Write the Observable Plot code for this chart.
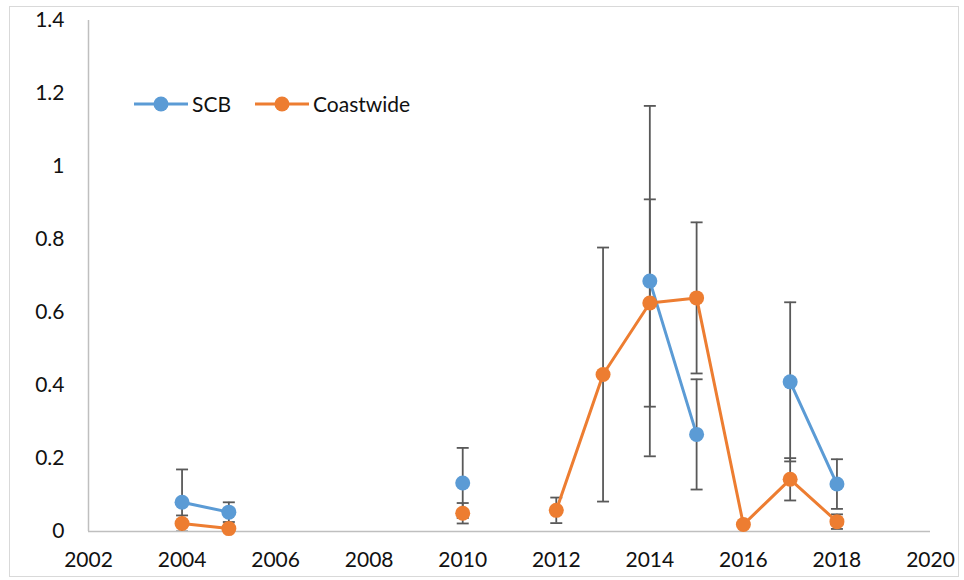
<!DOCTYPE html>
<html>
<head>
<meta charset="utf-8">
<script src="https://cdn.jsdelivr.net/npm/d3@7"></script>
<script src="https://cdn.jsdelivr.net/npm/@observablehq/plot@0.6"></script>
<style>
  html, body { margin: 0; padding: 0; background: #fff; }
  #wrap { position: relative; width: 964px; height: 580px; font-family: Lato, "Open Sans", sans-serif; }
  #border { position: absolute; left: 9px; top: 6px; width: 950px; height: 571px; border: 1px solid #d9d9d9; box-sizing: border-box; pointer-events: none; }
  #legend { position: absolute; left: 134px; top: 91px; display: flex; align-items: center; font-size: 21px; color: #111; }
  #legend .item { display: flex; align-items: center; margin-right: 24px; }
  #legend svg { margin-right: 4px; }
</style>
</head>
<body>
<div id="wrap"><div id="border"></div><div id="chart"></div><div id="legend"></div></div>
<script>
const years =        [2004, 2005, 2006, 2007, 2008, 2009, 2010, 2011, 2012, 2013, 2014, 2015, 2016, 2017, 2018];
const scb =          [0.080, 0.053, null, null, null, null, 0.133, null, null, null, 0.686, 0.266, null, 0.410, 0.130];
const scbErr =       [0.090, 0.027, null, null, null, null, 0.096, null, null, null, 0.480, 0.151, null, 0.218, 0.068];
const coastwide =    [0.022, 0.008, null, null, null, null, 0.050, null, 0.058, 0.430, 0.626, 0.640, 0.019, 0.143, 0.027];
const coastwideErr = [0.022, 0.006, null, null, null, null, 0.028, null, 0.035, 0.348, 0.284, 0.207, 0.005, 0.058, 0.020];
const seriesNames = ["SCB", "Coastwide"];
const seriesColors = ["#5B9BD5", "#ED7D31"];
const xTicks = [2002, 2004, 2006, 2008, 2010, 2012, 2014, 2016, 2018, 2020];
const yTicks = [0, 0.2, 0.4, 0.6, 0.8, 1, 1.2, 1.4];

function rows(vals, errs, name) {
  return years.map((yr, i) => ({
    year: yr, value: vals[i], series: name,
    lo: vals[i] == null ? null : vals[i] - errs[i],
    hi: vals[i] == null ? null : vals[i] + errs[i]
  }));
}
const scbRows = rows(scb, scbErr, "SCB");
const cwRows = rows(coastwide, coastwideErr, "Coastwide");
const errRows = [...scbRows, ...cwRows].filter(d => d.value != null);

const capSymbol = {
  draw(ctx, size) {
    const r = Math.sqrt(size / Math.PI);
    ctx.moveTo(-r, 0);
    ctx.lineTo(r, 0);
  }
};

const chart = Plot.plot({
  width: 964,
  height: 580,
  marginLeft: 88,
  marginRight: 34,
  marginTop: 20,
  marginBottom: 49,
  style: { fontFamily: "Lato, 'Open Sans', sans-serif", fontSize: "21px", color: "#111", background: "transparent" },
  x: { domain: [2002, 2020], ticks: xTicks, tickFormat: d => String(d), tickSize: 0, tickPadding: 22, label: null },
  y: { domain: [0, 1.4], ticks: yTicks, tickFormat: d => String(d), tickSize: 0, tickPadding: 24, label: null },
  marks: [
    Plot.axisX({ ticks: xTicks, tickFormat: d => String(d), tickSize: 0, tickPadding: 21, label: null, fontSize: 21, fill: "#111" }),
    Plot.axisY({ ticks: yTicks, tickFormat: d => String(d), tickSize: 0, tickPadding: 24, label: null, fontSize: 21, fill: "#111" }),
    Plot.ruleY([0], { stroke: "#bfbfbf", strokeWidth: 1.5 }),
    Plot.ruleX([2002], { stroke: "#bfbfbf", strokeWidth: 1.5 }),
    Plot.ruleX(errRows, { x: "year", y1: "lo", y2: "hi", stroke: "#595959", strokeWidth: 1.8, clip: true }),
    Plot.dot(errRows, { x: "year", y: "lo", symbol: capSymbol, r: 6, stroke: "#595959", strokeWidth: 1.8, clip: true }),
    Plot.dot(errRows, { x: "year", y: "hi", symbol: capSymbol, r: 6, stroke: "#595959", strokeWidth: 1.8, clip: true }),
    Plot.line(scbRows, { x: "year", y: "value", stroke: seriesColors[0], strokeWidth: 3 }),
    Plot.dot(scbRows.filter(d => d.value != null), { x: "year", y: "value", r: 7.5, fill: seriesColors[0] }),
    Plot.line(cwRows, { x: "year", y: "value", stroke: seriesColors[1], strokeWidth: 3 }),
    Plot.dot(cwRows.filter(d => d.value != null), { x: "year", y: "value", r: 7.5, fill: seriesColors[1] })
  ]
});
document.getElementById("chart").appendChild(chart);

const legend = document.getElementById("legend");
seriesNames.forEach((name, i) => {
  const item = document.createElement("div");
  item.className = "item";
  item.innerHTML = `<svg width="54" height="20"><line x1="0" y1="10" x2="54" y2="10" stroke="${seriesColors[i]}" stroke-width="3"/><circle cx="27" cy="10" r="7.5" fill="${seriesColors[i]}"/></svg><span>${name}</span>`;
  legend.appendChild(item);
});
</script>
</body>
</html>
